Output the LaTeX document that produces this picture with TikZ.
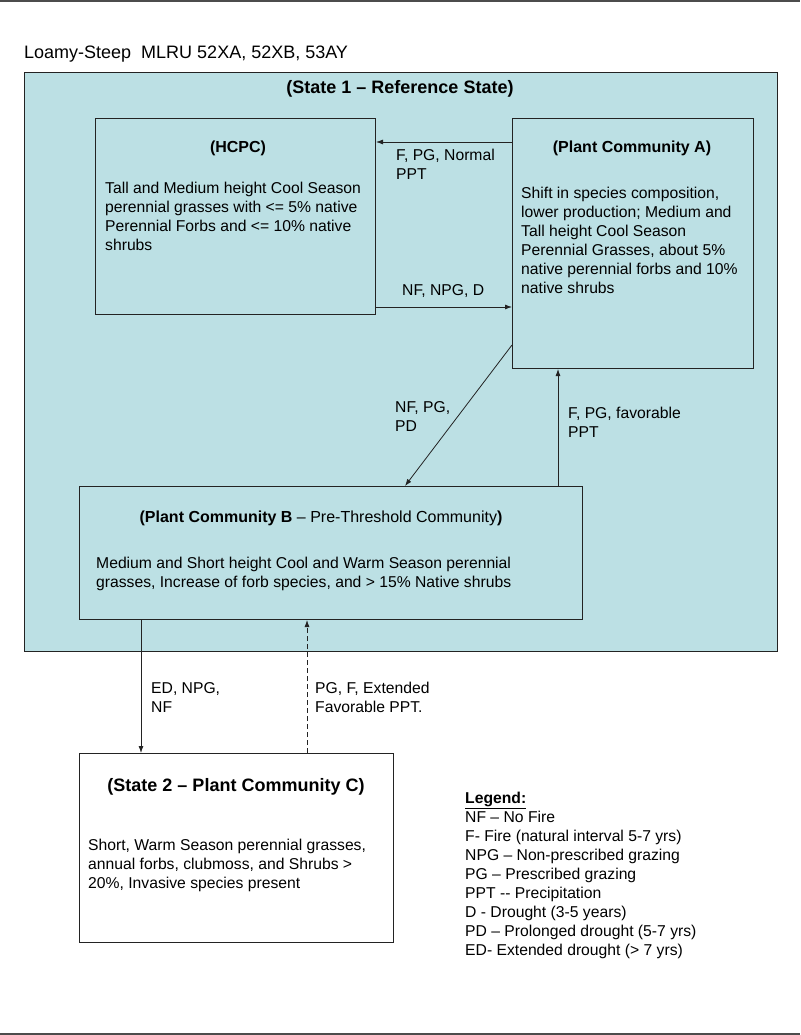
\documentclass[tikz,border=0pt]{standalone}
\usepackage{fontspec}
\setmainfont{Liberation Sans}
\usetikzlibrary{arrows.meta}
\definecolor{stateblue}{RGB}{188,224,228}
\definecolor{boxline}{RGB}{35,35,35}
\tikzset{commbox/.style={draw=boxline,line width=1pt,anchor=north west,inner sep=0pt},
    bodytext/.style={font=\fontsize{15.7}{19}\selectfont,align=left,anchor=north west,inner sep=0pt},
    titletext/.style={font=\fontsize{16}{19}\selectfont\bfseries,anchor=base,inner sep=0pt},
    flow/.style={-{Latex[length=7pt,width=5pt]},line width=0.8pt,draw=boxline}
}

\begin{document}
\begin{tikzpicture}[x=1pt,y=-1pt]
           \useasboundingbox (0,0) rectangle (800,1035);
           \draw[line width=2pt,gray!60!black] (0,1.5) to (800,1.5);
           \draw[line width=2pt,gray!60!black] (0,1033.5) to (800,1033.5);
           \node[bodytext,font=\fontsize{18}{21}\selectfont] (site) at (24,45.5) {Loamy-Steep\ \ MLRU 52XA, 52XB, 53AY};
           % state 1 and its communities
           \node[commbox,fill=stateblue,minimum width=753pt,minimum height=579pt] (stateone) at (24,72) {};
           \node[titletext,font=\fontsize{18}{21}\selectfont\bfseries] (stateonetitle) at (400,93.5) {(State 1 -- Reference State)};
           \node[commbox,minimum width=280pt,minimum height=196pt] (hcpc) at (95,118) {};
           \node[titletext] (hcpctitle) at (238,153) {(HCPC)};
           \node[bodytext] (hcpcbody) at (105,182) {Tall and Medium height Cool Season\\perennial grasses with <= 5\% native\\Perennial Forbs and <= 10\% native\\shrubs};
           \node[commbox,minimum width=241pt,minimum height=250pt] (pca) at (512,118) {};
           \node[titletext] (pcatitle) at (632,153) {(Plant Community A)};
           \node[bodytext] (pcabody) at (521,187) {Shift in species composition,\\lower production; Medium and\\Tall height Cool Season\\Perennial Grasses, about 5\%\\native perennial forbs and 10\%\\native shrubs};
           \node[commbox,minimum width=503pt,minimum height=133pt] (pcb) at (79,486) {};
           \node[titletext,font=\fontsize{16}{19}\selectfont] (pcbtitle) at (321,522) {\textbf{(Plant Community B} -- Pre-Threshold Community\textbf{)}};
           \node[bodytext] (pcbbody) at (96,557) {Medium and Short height Cool and Warm Season perennial\\grasses, Increase of forb species, and > 15\% Native shrubs};
           % state 2
           \node[commbox,fill=white,minimum width=314pt,minimum height=189pt] (pcc) at (79,753) {};
           \node[titletext,font=\fontsize{18}{21}\selectfont\bfseries] (pcctitle) at (236,791.5) {(State 2 -- Plant Community C)};
           \node[bodytext] (pccbody) at (88,839) {Short, Warm Season perennial grasses,\\annual forbs, clubmoss, and Shrubs >\\20\%, Invasive species present};
           % transitions
           \draw[flow] (pca.west |- 0,142) to (hcpc.east |- 0,142);
           \node[bodytext] (lbltoh) at (396,149) {F, PG, Normal\\PPT};
           \draw[flow] (hcpc.east |- 0,307) to (pca.west |- 0,307);
           \node[bodytext] (lbltoa) at (402,284) {NF, NPG, D};
           \draw[flow] (pca.west |- 0,345) to (pcb.north -| 405,0);
           \node[bodytext] (lbltob) at (395,401) {NF, PG,\\PD};
           \draw[flow] (pcb.north -| 558,0) to (pca.south -| 558,0);
           \node[bodytext] (lblup) at (568,407) {F, PG, favorable\\PPT};
           \draw[flow] (pcb.south -| 141,0) to (pcc.north -| 141,0);
           \node[bodytext] (lbltoc) at (151,682) {ED, NPG,\\NF};
           \draw[flow,dash pattern=on 5pt off 3pt] (pcc.north -| 307,0) to (pcb.south -| 307,0);
           \node[bodytext] (lblback) at (315,682) {PG, F, Extended\\Favorable PPT.};
           % legend
           \node[bodytext] (legend) at (465,792) {\underline{\textbf{Legend:}}\\NF -- No Fire\\F- Fire (natural interval 5-7 yrs)\\NPG -- Non-prescribed grazing\\PG -- Prescribed grazing\\PPT -{}- Precipitation\\D - Drought (3-5 years)\\PD -- Prolonged drought (5-7 yrs)\\ED- Extended drought (> 7 yrs)};
\end{tikzpicture}
\end{document}
